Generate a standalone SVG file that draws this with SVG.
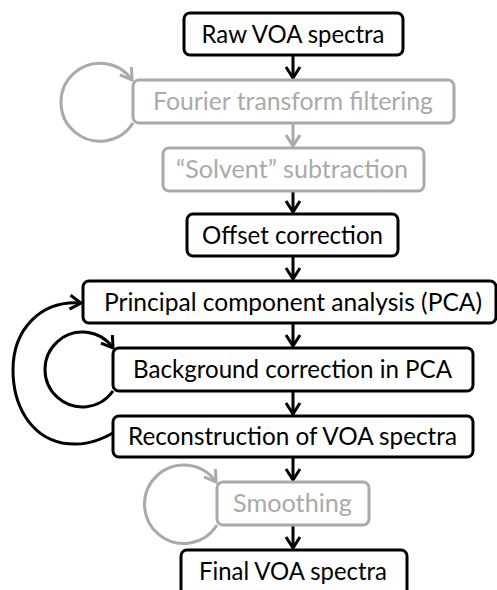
<svg xmlns="http://www.w3.org/2000/svg" width="497" height="590" viewBox="0 0 497 590">
<defs>
<style>
.box{fill:#fff;stroke:#000;stroke-width:3}
.gbox{fill:#fff;stroke:#aaa;stroke-width:3}
text{font-family:Lato,"Open Sans","Liberation Sans",sans-serif;font-size:25px;text-anchor:middle}
.t{fill:#000}
.g{fill:#aaa}
.ln{fill:none;stroke:#000;stroke-width:3}
.gln{fill:none;stroke:#aaa;stroke-width:3}
</style>
<marker id="ab" markerUnits="userSpaceOnUse" markerWidth="30" markerHeight="30" viewBox="-15 -15 30 30" refX="0" refY="0" orient="auto">
<path d="M -11 -7 L 0 0 L -11 7" fill="none" stroke="#000" stroke-width="3"/>
</marker>
<marker id="ag" markerUnits="userSpaceOnUse" markerWidth="30" markerHeight="30" viewBox="-15 -15 30 30" refX="0" refY="0" orient="auto">
<path d="M -11 -7 L 0 0 L -11 7" fill="none" stroke="#aaa" stroke-width="3"/>
</marker>
</defs>
<g id="connectors">
<line class="ln" x1="293" y1="55" x2="293" y2="78" marker-end="url(#ab)"/>
<line class="gln" x1="293" y1="123" x2="293" y2="146" marker-end="url(#ag)"/>
<line class="ln" x1="293" y1="191" x2="293" y2="212" marker-end="url(#ab)"/>
<line class="ln" x1="293" y1="256" x2="293" y2="279" marker-end="url(#ab)"/>
<line class="ln" x1="293" y1="323" x2="293" y2="346" marker-end="url(#ab)"/>
<line class="ln" x1="293" y1="391" x2="293" y2="414" marker-end="url(#ab)"/>
<line class="ln" x1="293" y1="457" x2="293" y2="480" marker-end="url(#ab)"/>
<line class="ln" x1="293" y1="525" x2="293" y2="548" marker-end="url(#ab)"/>
<path class="gln" d="M 133 123 A 39 39 0 1 1 132 80" marker-end="url(#ag)"/>
<path class="ln" d="M 113 391 A 37.4 37.4 0 1 1 113 348" marker-end="url(#ab)"/>
<path class="ln" d="M 113 433 C 95 443, 80 446, 62 443 C 30 436, 13 405, 13 370 C 13 330, 40 300, 81 303" marker-end="url(#ab)"/>
<path class="gln" d="M 217 525 A 39.2 39.2 0 1 1 216 482" marker-end="url(#ag)"/>
</g>
<g id="raw"><rect class="box" x="184" y="13" width="219" height="42" rx="6"/><text class="t" x="293" y="43" textLength="183" lengthAdjust="spacingAndGlyphs">Raw VOA spectra</text></g>
<g id="fourier"><rect class="gbox" x="133" y="80" width="321" height="43" rx="6"/><text class="g" x="293" y="110" textLength="280" lengthAdjust="spacingAndGlyphs">Fourier transform filtering</text></g>
<g id="solvent"><rect class="gbox" x="163" y="148" width="261" height="43" rx="6"/><text class="g" x="292" y="178" textLength="232" lengthAdjust="spacingAndGlyphs">“Solvent” subtraction</text></g>
<g id="offset"><rect class="box" x="187" y="214" width="211" height="42" rx="6"/><text class="t" x="292.5" y="244" textLength="181" lengthAdjust="spacingAndGlyphs">Offset correction</text></g>
<g id="pca"><rect class="box" x="83" y="281" width="413" height="42" rx="6"/><text class="t" x="293" y="311" textLength="378" lengthAdjust="spacingAndGlyphs">Principal component analysis (PCA)</text></g>
<g id="background"><rect class="box" x="113" y="348" width="360" height="43" rx="6"/><text class="t" x="292.5" y="378" textLength="319" lengthAdjust="spacingAndGlyphs">Background correction in PCA</text></g>
<g id="reconstruction"><rect class="box" x="113" y="416" width="360" height="41" rx="6"/><text class="t" x="292.5" y="445" textLength="329" lengthAdjust="spacingAndGlyphs">Reconstruction of VOA spectra</text></g>
<g id="smoothing"><rect class="gbox" x="217" y="482" width="152" height="43" rx="6"/><text class="g" x="292.5" y="512" textLength="119" lengthAdjust="spacingAndGlyphs">Smoothing</text></g>
<g id="final"><rect class="box" x="181" y="550" width="226" height="60" rx="6"/><text class="t" x="293" y="580" textLength="188" lengthAdjust="spacingAndGlyphs">Final VOA spectra</text></g>
</svg>
